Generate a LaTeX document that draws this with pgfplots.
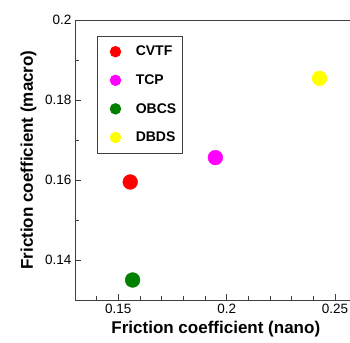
\documentclass[border=0pt]{standalone}
\usepackage{pgfplots}
\pgfplotsset{compat=1.18}
\usepackage{fontspec}
\setmainfont{Liberation Sans}
\definecolor{dgreen}{RGB}{0,128,0}
\definecolor{mag}{RGB}{255,0,255}
\definecolor{yel}{RGB}{255,255,0}
\definecolor{rd}{RGB}{255,0,0}
\begin{document}
\begin{tikzpicture}
\begin{axis}[
  scale only axis,
  width=281.6pt, height=280pt,
  xmin=0.13, xmax=0.26, ymin=0.13, ymax=0.2,
  xtick={0.15,0.2,0.25}, ytick={0.14,0.16,0.18,0.2},
  minor xtick={0.14,0.16,0.17,0.18,0.19,0.21,0.22,0.23,0.24},
  minor ytick={0.15,0.17,0.19},
  xticklabels={0.15,0.2,0.25}, yticklabels={0.14,0.16,0.18,0.2},
  tick pos=left, tick align=inside,
  major tick length=6pt, minor tick length=3.5pt,
  axis line style={black!75, line width=0.8pt},
  every tick/.style={black!75, line width=0.7pt},
  tick label style={font=\fontsize{13.5}{15}\selectfont},
  xticklabel style={yshift=-1pt},
  label style={font=\bfseries\fontsize{17}{19}\selectfont},
  xlabel={Friction coefficient (nano)},
  ylabel={Friction coefficient (macro)},
  xlabel style={yshift=0pt},
  ylabel style={yshift=2pt},
  legend style={at={(rel axis cs:0.077,0.944)}, anchor=north west,
    draw=black!75, line width=0.8pt, font=\bfseries\fontsize{14}{16}\selectfont,
    inner xsep=4pt, inner ysep=8pt, row sep=13.3pt},
  legend cell align=left,
  legend image code/.code={\path (0pt,0pt); \draw[#1, mark size=5.3pt] plot coordinates {(14pt,0pt)};},
  /pgf/number format/assume math mode=true,
]
\addplot[only marks, mark=*, mark size=7.4pt, color=rd, mark options={fill=rd, draw=rd}] coordinates {(0.1555,0.1595)};
\addlegendentry{\hspace{13pt}CVTF\hspace{14pt}}
\addplot[only marks, mark=*, mark size=7.4pt, color=mag, mark options={fill=mag, draw=mag}] coordinates {(0.1948,0.1656)};
\addlegendentry{\hspace{13pt}TCP}
\addplot[only marks, mark=*, mark size=7.4pt, color=dgreen, mark options={fill=dgreen, draw=dgreen}] coordinates {(0.1566,0.1350)};
\addlegendentry{\hspace{13pt}OBCS}
\addplot[only marks, mark=*, mark size=7.4pt, color=yel, mark options={fill=yel, draw=yel}] coordinates {(0.2429,0.1854)};
\addlegendentry{\hspace{13pt}DBDS}
\end{axis}
\pgfresetboundingbox
\path[use as bounding box] ([shift={(-75pt,-43pt)}]current axis.south west) rectangle ([shift={(275pt,20pt)}]current axis.north west);
\end{tikzpicture}
\end{document}
